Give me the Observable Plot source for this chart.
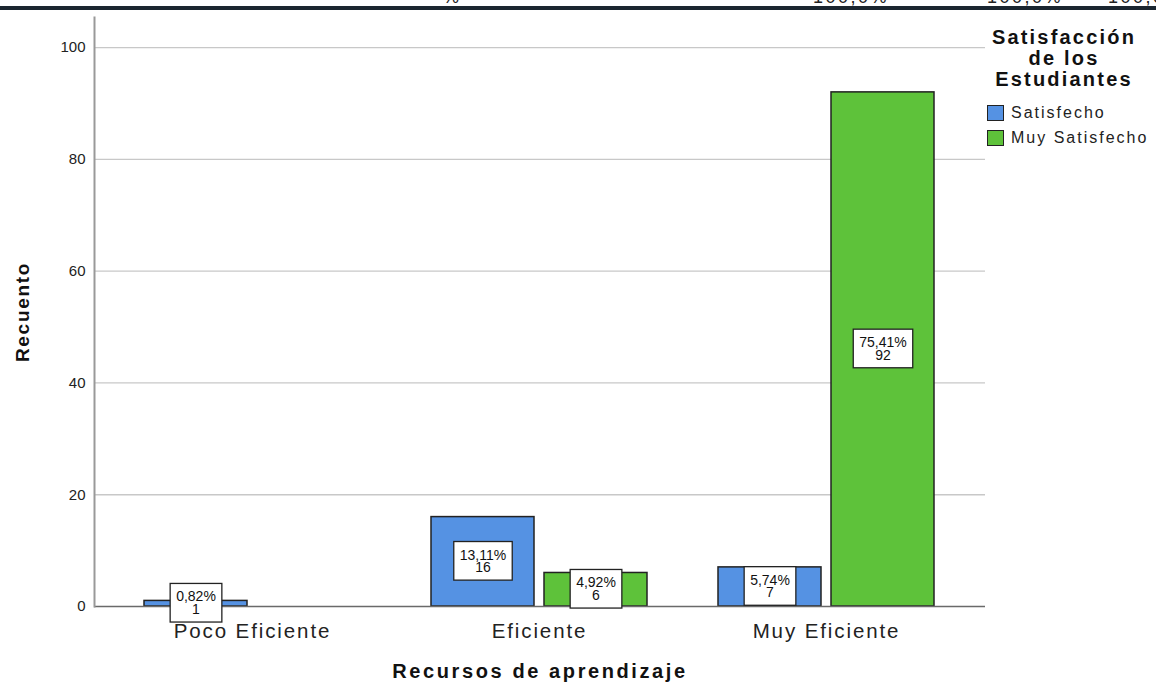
<!DOCTYPE html>
<html>
<head>
<meta charset="utf-8">
<script src="https://cdn.jsdelivr.net/npm/d3@7"></script>
<script src="https://cdn.jsdelivr.net/npm/@observablehq/plot@0.6"></script>
<style>
  body { margin: 0; background: #fff; }
  #wrap { position: relative; width: 1156px; height: 683px; overflow: hidden; font-family: "Liberation Sans", Arial, sans-serif; }
  #wrap svg { position: absolute; left: 0; top: 0; }
  #topstrip { position: absolute; left: 0; top: 0; width: 1156px; height: 6px; overflow: hidden; }
  #topstrip span { position: absolute; top: -12px; font-size: 18px; line-height: 18px; color: #222; letter-spacing: 2.5px; }
  #topline { position: absolute; left: 0; top: 6px; width: 1156px; height: 4px; background: #1b2630; }
  #legend-title { position: absolute; left: 978px; top: 27px; width: 172px; text-align: center; font-weight: bold; font-size: 20px; line-height: 21px; letter-spacing: 2.2px; color: #111; }
  .lg-item { position: absolute; left: 987px; height: 17px; font-size: 16px; letter-spacing: 2px; color: #222; }
  .lg-item i { position: absolute; left: 0; top: 0; width: 15px; height: 14px; border: 1.5px solid #222; }
  .lg-item span { position: absolute; left: 24px; top: -1px; white-space: nowrap; }
  [aria-label="x-axis tick label"] text { letter-spacing: 1.9px; }
  .ttl { letter-spacing: 2.6px; }
  .yttl { letter-spacing: 1.7px; }
</style>
</head>
<body>
<div id="wrap">
  <div id="topstrip"></div>
  <div id="topline"></div>
  <div id="legend-title">Satisfacción<br>de los<br>Estudiantes</div>
</div>
<script>
// ---- data ----
const categories = ["Poco Eficiente", "Eficiente", "Muy Eficiente"];
const seriesNames = ["Satisfecho", "Muy Satisfecho"];
const satisfecho = [1, 16, 7];
const muySatisfecho = [0, 6, 92];
const pctSatisfecho = ["0,82%", "13,11%", "5,74%"];
const pctMuySatisfecho = ["0,00%", "4,92%", "75,41%"];
const yTicks = [0, 20, 40, 60, 80, 100];
const seriesColors = ["#5592e3", "#5ec23a"];
const xTitle = "Recursos de aprendizaje";
const yTitle = "Recuento";
const tableFragments = [["%", 443], ["100,0%", 813], ["100,0%", 987], ["100,0", 1108]];

// ---- table ----
const rowsA = categories.map((c, i) => ({category: c, series: seriesNames[0], value: satisfecho[i], pct: pctSatisfecho[i]})).filter(d => d.value > 0);
const rowsB = categories.map((c, i) => ({category: c, series: seriesNames[1], value: muySatisfecho[i], pct: pctMuySatisfecho[i]})).filter(d => d.value > 0);

// half of the group width plus half the gap: bars sit side by side in each band
const inset = 113, half = 56.5;

const chart = Plot.plot({
  width: 1156,
  height: 683,
  marginLeft: 94,
  marginRight: 171,
  marginTop: 17,
  marginBottom: 77,
  style: {fontFamily: "'Liberation Sans', Arial, sans-serif", color: "#222", background: "transparent"},
  x: {domain: categories, paddingInner: 0.247, paddingOuter: 0.174, label: null},
  y: {domain: [0, 105.4]},
  color: {domain: seriesNames, range: seriesColors},
  marks: [
    Plot.gridY(yTicks.filter(d => d > 0), {stroke: "#c8c8c8", strokeOpacity: 1, strokeWidth: 1.3}),
    Plot.barY(rowsA, {x: "category", y: "value", fill: "series", stroke: "#222", strokeWidth: 1.5, insetRight: inset}),
    Plot.barY(rowsB, {x: "category", y: "value", fill: "series", stroke: "#222", strokeWidth: 1.5, insetLeft: inset}),
    Plot.ruleY([0], {stroke: "#6a6a6a", strokeWidth: 1.5}),
    Plot.frame({anchor: "left", stroke: "#999", strokeWidth: 2}),
    Plot.text(rowsA, {x: "category", y: d => d.value / 2, dx: -half, text: d => d.pct + "\n" + d.value, fontSize: 14, lineHeight: 0.9, fill: "#111", className: "lbl"}),
    Plot.text(rowsB, {x: "category", y: d => d.value / 2, dx: half, text: d => d.pct + "\n" + d.value, fontSize: 14, lineHeight: 0.9, fill: "#111", className: "lbl"}),
    Plot.axisY(yTicks, {tickSize: 0, tickPadding: 9, fontSize: 15, label: null, fill: "#222"}),
    Plot.axisX({tickSize: 0, tickPadding: 17, fontSize: 20.5, label: null, fill: "#222"}),
    Plot.text([yTitle], {text: d => d, frameAnchor: "left", textAnchor: "middle", lineAnchor: "middle", rotate: -90, dx: -72, fontSize: 19, fontWeight: "bold", fill: "#111", className: "yttl"}),
    Plot.text([xTitle], {text: d => d, frameAnchor: "bottom", dy: 71.5, fontSize: 20, fontWeight: "bold", fill: "#111", className: "ttl"})
  ]
});

const wrap = document.getElementById("wrap");
wrap.insertBefore(chart, wrap.firstChild);

// white boxes behind bar labels
chart.querySelectorAll(".lbl text").forEach(t => {
  const b = t.getBBox();
  const r = document.createElementNS("http://www.w3.org/2000/svg", "rect");
  const px = 6, py = 5;
  r.setAttribute("x", b.x - px);
  r.setAttribute("y", b.y - py);
  r.setAttribute("width", b.width + 2 * px);
  r.setAttribute("height", b.height + 2 * py);
  r.setAttribute("fill", "#fff");
  r.setAttribute("stroke", "#222");
  r.setAttribute("stroke-width", "1.3");
  if (t.getAttribute("transform")) r.setAttribute("transform", t.getAttribute("transform"));
  t.parentNode.insertBefore(r, t);
});

// legend
seriesNames.forEach((s, i) => {
  const d = document.createElement("div");
  d.className = "lg-item";
  d.style.top = (105 + i * 25) + "px";
  d.innerHTML = `<i style="background:${seriesColors[i]}"></i><span>${s}</span>`;
  wrap.appendChild(d);
});

// cut-off table fragments above the chart
const strip = document.getElementById("topstrip");
tableFragments.forEach(([t, x]) => {
  const s = document.createElement("span");
  s.textContent = t;
  s.style.left = x + "px";
  strip.appendChild(s);
});
</script>
</body>
</html>
